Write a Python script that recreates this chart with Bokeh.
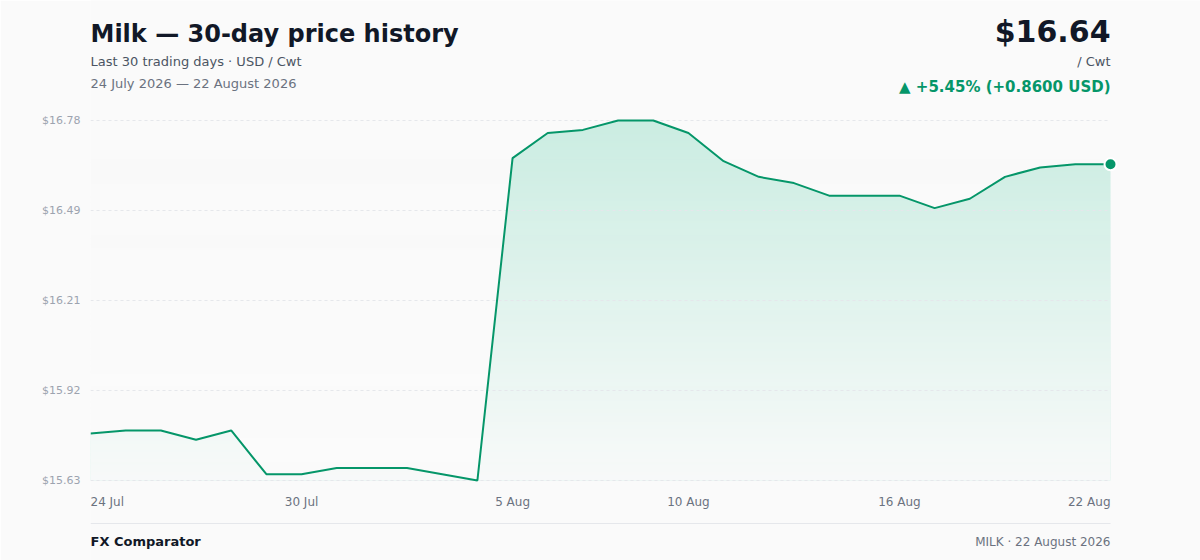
import numpy as np
import pandas as pd
from bokeh.plotting import figure
from bokeh.models import Range1d, FixedTicker, Label
from bokeh.embed import file_html
from bokeh.resources import INLINE

# ---------------- data ----------------
dates = pd.date_range("2026-07-24", "2026-08-22", freq="D")
prices = [15.78, 15.79, 15.79, 15.76, 15.79, 15.65, 15.65, 15.67, 15.67, 15.67,
          15.65, 15.63, 16.66, 16.74, 16.75, 16.78, 16.78, 16.74, 16.65, 16.60,
          16.58, 16.54, 16.54, 16.54, 16.50, 16.53, 16.60, 16.63, 16.64, 16.64]
y_tick_labels = ["$15.63", "$15.92", "$16.21", "$16.49", "$16.78"]
x_tick_dates = ["2026-07-24", "2026-07-30", "2026-08-05", "2026-08-10", "2026-08-16", "2026-08-22"]
x_tick_labels = ["24 Jul", "30 Jul", "5 Aug", "10 Aug", "16 Aug", "22 Aug"]
x_tick_align = ["left", "center", "center", "center", "center", "right"]

title = "Milk \u2014 30-day price history"
subtitle = "Last 30 trading days \u00b7 USD / Cwt"
date_range_text = "24 July 2026 \u2014 22 August 2026"
unit_text = "/ Cwt"
brand = "FX Comparator"
footer_right = "MILK \u00b7 22 August 2026"

# ---------------- styling ----------------
BG = "#fafafa"
BG_RGB = (250, 250, 250)
GREEN = "#059669"
FILL = "#10b981"
FONT = "DejaVu Sans"

W, H = 1200, 560
FL, FR, FT, FB = 90, 1200, 0, 560         # frame in picture pixels
DX0, DX1 = 90, 1110                       # data x extent
DY_MAX, DY_MIN = 120, 480                 # data y extent

def to_ms(d):
    return float(pd.Timestamp(d).value // 10**6)

x = np.array([to_ms(d) for d in dates])
y = np.array(prices, dtype=float)
xmin, xmax = x[0], x[-1]
ymin, ymax = y.min(), y.max()
KX = (xmax - xmin) / (DX1 - DX0)
KY = (ymax - ymin) / (DY_MIN - DY_MAX)

def Y(py):
    return ymin + (DY_MIN - py) * KY

x_range = Range1d(start=xmin - (DX0 - FL) * KX, end=xmax + (FR - DX1) * KX)
y_range = Range1d(start=Y(FB), end=Y(FT))

p = figure(width=W, height=H, output_backend="svg", toolbar_location=None,
           x_range=x_range, y_range=y_range,
           min_border_left=FL, min_border_right=W - FR,
           min_border_top=FT, min_border_bottom=H - FB)
p.background_fill_color = BG
p.border_fill_color = BG
p.outline_line_color = None
p.xaxis.visible = False
p.xgrid.visible = False
p.ygrid.visible = False

yticks = [float(t) for t in np.linspace(ymin, ymax, len(y_tick_labels))]
p.yaxis.ticker = FixedTicker(ticks=yticks)
p.yaxis.major_label_overrides = {t: lab for t, lab in zip(yticks, y_tick_labels)}
p.yaxis.axis_line_color = None
p.yaxis.major_tick_line_color = None
p.yaxis.minor_tick_line_color = None
p.yaxis.major_tick_out = 0
p.yaxis.minor_tick_out = 0
p.yaxis.major_label_standoff = 10
p.yaxis.major_label_text_font = FONT
p.yaxis.major_label_text_font_size = "11px"
p.yaxis.major_label_text_color = "#9ca3af"

# ---------------- area with vertical gradient ----------------
A_TOP, A_BOT = 0.20, 0.01
p.varea(x=x, y1=np.full_like(y, ymin), y2=y, fill_color=FILL, fill_alpha=A_TOP, level="image")

# a background-coloured vertical fade (one image) over the fill
rows = DY_MIN - DY_MAX
frac = (np.arange(rows) + 0.5) / rows            # 0 at bottom, 1 at top
eff = A_BOT + (A_TOP - A_BOT) * frac
over_alpha = 1.0 - eff / A_TOP
img = np.zeros((rows, 2), dtype=np.uint32)
view = img.view(dtype=np.uint8).reshape((rows, 2, 4))
view[:, :, 0] = BG_RGB[0]
view[:, :, 1] = BG_RGB[1]
view[:, :, 2] = BG_RGB[2]
view[:, :, 3] = np.round(over_alpha * 255).astype(np.uint8)[:, None]
p.image_rgba(image=[img], x=xmin, y=ymin, dw=xmax - xmin, dh=ymax - ymin, level="image")

# dotted horizontal grid lines at the y ticks, limited to the data extent
p.segment(x0=xmin, x1=xmax, y0=yticks, y1=yticks, line_color="#e5e7eb",
          line_width=1, line_dash="3 3", level="underlay")

# ---------------- line & end marker ----------------
p.line(x, y, line_color=GREEN, line_width=2)
p.scatter(x=[x[-1]], y=[y[-1]], size=12, fill_color=GREEN, line_color="white", line_width=2)

# footer separator
p.segment(x0=[xmin], x1=[xmax], y0=[Y(523)], y1=[Y(523)], line_color="#e5e7eb", line_width=1)

# ---------------- texts ----------------
def lab(text, xv, baseline_py, size, color, bold=False, align="left"):
    py = baseline_py - 0.39 * size
    p.add_layout(Label(x=xv, y=Y(py), text=text, text_font=FONT,
                       text_font_size=f"{size}px", text_color=color,
                       text_font_style="bold" if bold else "normal",
                       text_align=align, text_baseline="alphabetic"))

change = y[-1] - y[0]
pct = change / y[0] * 100
arrow = "\u25b2" if change >= 0 else "\u25bc"
change_text = f"{arrow} {pct:+.2f}% ({change:+.4f} USD)"
price_text = f"${y[-1]:.2f}"

lab(title, xmin, 43, 24, "#111827", bold=True)
lab(subtitle, xmin, 66, 13, "#4b5563")
lab(date_range_text, xmin, 88, 13, "#6b7280")
lab(price_text, xmax, 43, 30, "#111827", bold=True, align="right")
lab(unit_text, xmax, 66, 13, "#4b5563", align="right")
lab(change_text, xmax, 92, 15, GREEN, bold=True, align="right")

for d, t, a in zip(x_tick_dates, x_tick_labels, x_tick_align):
    lab(t, to_ms(d), 506, 12, "#6b7280", align=a)

lab(brand, xmin, 546, 13, "#111827", bold=True)
lab(footer_right, xmax, 546, 12, "#6b7280", align="right")

open("out.html", "w").write(file_html(p, INLINE))
